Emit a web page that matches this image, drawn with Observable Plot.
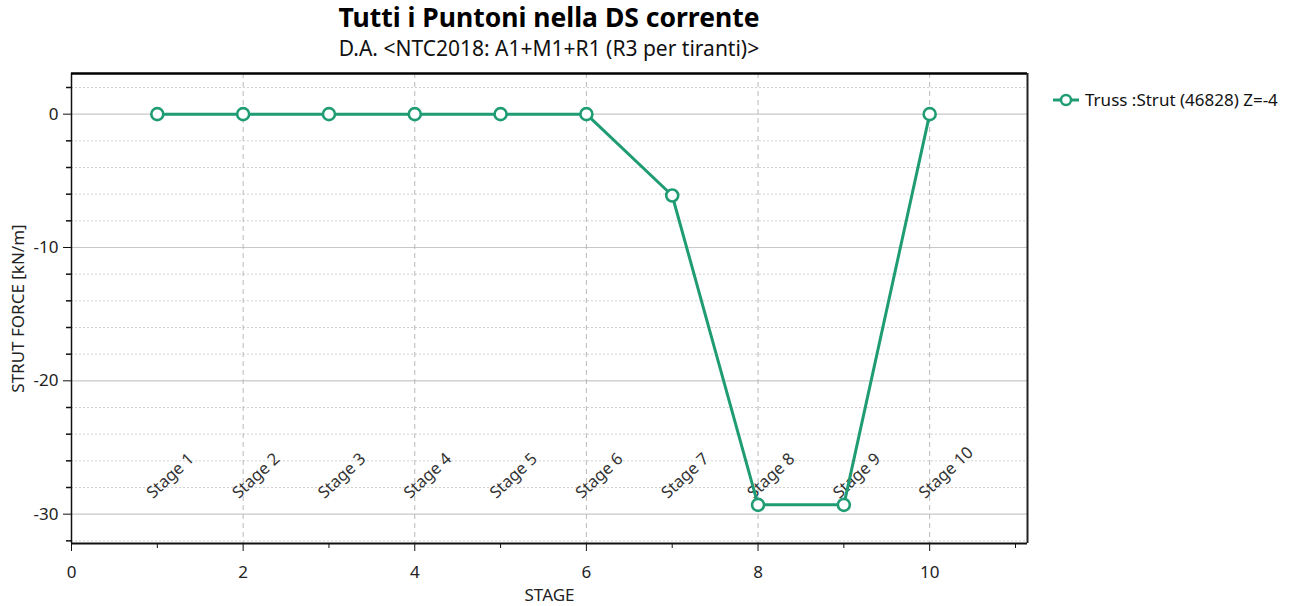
<!DOCTYPE html>
<html>
<head>
<meta charset="utf-8">
<script src="https://cdn.jsdelivr.net/npm/d3@7"></script>
<script src="https://cdn.jsdelivr.net/npm/@observablehq/plot@0.6"></script>
<style>
  body { margin: 0; background: #fff; font-family: "Segoe UI", "Noto Sans", "Open Sans", sans-serif; }
  #wrap { position: relative; width: 1295px; height: 606px; }
  #head { height: 64px; width: 956px; margin-left: 71px; text-align: center; color: #000; }
  #title { font-size: 26.5px; font-weight: 700; padding-top: 0px; line-height: 34px; }
  #subtitle { font-size: 21px; line-height: 28px; margin-top: 0px; color: #111; }
  #legend { position: absolute; left: 1052px; top: 88px; display: flex; align-items: center; font-size: 17px; color: #111; }
  #legend svg { margin-right: 5px; }
</style>
</head>
<body>
<div id="wrap">
  <div id="head">
    <div id="title">Tutti i Puntoni nella DS corrente</div>
    <div id="subtitle">D.A. &lt;NTC2018: A1+M1+R1 (R3 per tiranti)&gt;</div>
  </div>
  <div id="chart"></div>
  <div id="legend"></div>
</div>
<script>
const stages = [1, 2, 3, 4, 5, 6, 7, 8, 9, 10];
const force = [0, 0, 0, 0, 0, 0, -6.1, -29.3, -29.3, 0];
const stageLabels = ["Stage 1", "Stage 2", "Stage 3", "Stage 4", "Stage 5", "Stage 6", "Stage 7", "Stage 8", "Stage 9", "Stage 10"];
const seriesName = "Truss :Strut (46828) Z=-4";
const xMajor = [0, 2, 4, 6, 8, 10];
const xMinor = [1, 3, 5, 7, 9, 11];
const xGrid = [2, 4, 6, 8, 10];
const yMajor = [0, -10, -20, -30];
const yMinor = [2, -2, -4, -6, -8, -12, -14, -16, -18, -22, -24, -26, -28, -32];
const xDomain = [0, 11.14];
const yDomain = [-32.2, 3.05];
const labelY = -28.6;

const color = "#1f9c74";
const data = stages.map((s, i) => ({stage: s, force: force[i], label: stageLabels[i]}));
const fmt = d => String(d);

const chart = Plot.plot({
  width: 1295,
  height: 542,
  marginLeft: 71,
  marginRight: 268,
  marginTop: 9,
  marginBottom: 63,
  style: {fontFamily: '"Segoe UI", "Noto Sans", "Open Sans", sans-serif', fontSize: "17px", color: "#222", background: "#fff"},
  x: {domain: xDomain, label: null},
  y: {domain: yDomain, label: null},
  marks: [
    Plot.gridY(yMinor, {stroke: "#d0d0d0", strokeOpacity: 1, strokeDasharray: "2,2"}),
    Plot.gridY(yMajor, {stroke: "#c8c8c8", strokeOpacity: 1, strokeWidth: 1.2}),
    Plot.gridX(xGrid, {stroke: "#b8b8b8", strokeOpacity: 1, strokeDasharray: "5,4"}),
    Plot.axisY(yMinor, {tickSize: 5, text: null, label: null, stroke: "#111", strokeWidth: 1.5}),
    Plot.axisY(yMajor, {tickSize: 8, tickPadding: 5, tickFormat: fmt, fontSize: 17, stroke: "#111", label: "STRUT FORCE [kN/m]", labelArrow: false, labelAnchor: "center", labelOffset: 60}),
    Plot.axisX(xMinor, {tickSize: 5, text: null, label: null, stroke: "#111"}),
    Plot.axisX(xMajor, {tickSize: 8, tickPadding: 14, tickFormat: fmt, fontSize: 17, stroke: "#111", label: "STAGE", labelArrow: false, labelAnchor: "center", labelOffset: 57}),
    Plot.ruleX([xDomain[0]], {stroke: "#111", strokeWidth: 1.5}),
    Plot.ruleY([yDomain[0]], {stroke: "#111", strokeWidth: 2}),
    Plot.ruleY([yDomain[1]], {stroke: "#000", strokeWidth: 2.5}),
    Plot.ruleX([xDomain[1]], {stroke: "#222", strokeWidth: 2}),
    Plot.text(data, {x: "stage", y: () => labelY, text: "label", rotate: -43, textAnchor: "start", dx: -8, fontSize: 16.5, fill: "#333"}),
    Plot.line(data, {x: "stage", y: "force", stroke: color, strokeWidth: 3}),
    Plot.dot(data, {x: "stage", y: "force", r: 6, fill: "#fff", stroke: color, strokeWidth: 2.6})
  ]
});
document.getElementById("chart").appendChild(chart);

const lg = document.getElementById("legend");
lg.innerHTML = `<svg width="28" height="20"><line x1="1" y1="10" x2="27" y2="10" stroke="${color}" stroke-width="3"/><circle cx="14" cy="10" r="5" fill="#fff" stroke="${color}" stroke-width="2.5"/></svg><span></span>`;
lg.querySelector("span").textContent = seriesName;
</script>
</body>
</html>
